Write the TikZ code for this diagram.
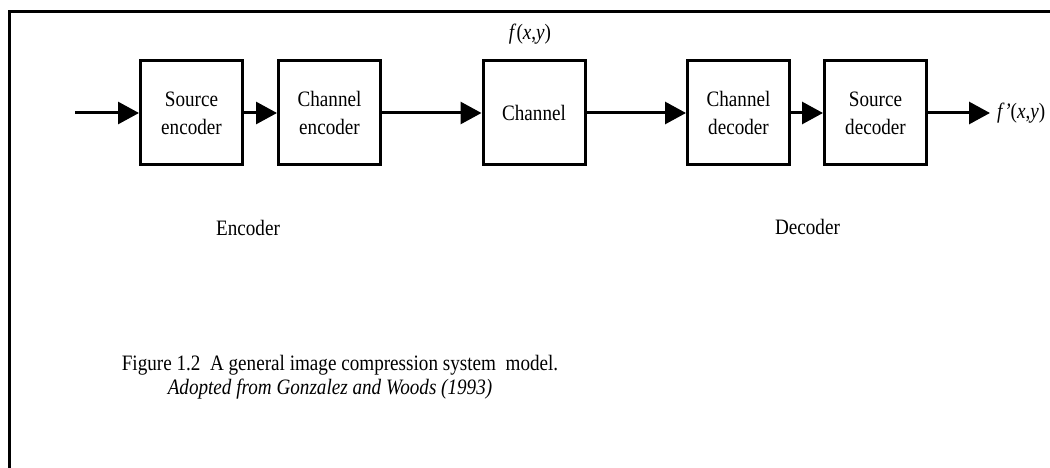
\documentclass[tikz,border=0pt]{standalone}
\usepackage{fontspec}
\setmainfont{Liberation Serif}[FakeStretch=0.87]
\usetikzlibrary{arrows.meta,positioning}

\begin{document}
\begin{tikzpicture}[x=1pt, y=-1pt,
    blockbox/.style={draw, line width=3pt, minimum width=102pt, minimum height=104pt, align=center, font=\fontsize{22}{28}\selectfont},
    flow/.style={line width=3pt, -{Triangle[length=21pt,width=22pt]}},
    plain/.style={font=\fontsize{22}{24}\selectfont}]

        \useasboundingbox (0,0) rectangle (1050,468);

        %Frame
        \draw [line width=3pt] (9,468) -- (9,12) -- (1050,12);

        %Boxes
        \coordinate (in) at (75,113);
        \node [blockbox] (srcenc) at (191.5,113) {Source\\encoder};
        \node [blockbox] (chenc) at (329.5,113) {Channel\\encoder};
        \node [blockbox] (chan) at (534,113) {Channel};
        \node [blockbox] (chdec) at (738.5,113) {Channel\\decoder};
        \node [blockbox] (srcdec) at (875.5,113) {Source\\decoder};
        \node [plain, anchor=west, inner xsep=7pt] (fout) at (990,113) {\textit{f'}(\textit{x},\textit{y})};
        \node [plain, anchor=base] (fin) at (530,40) {\textit{f}(\textit{x},\textit{y})};

        %Arrows
        \draw [flow] (in) -- (srcenc);
        \draw [flow] (srcenc) -- (chenc);
        \draw [flow] (chenc) -- (chan);
        \draw [flow] (chan) -- (chdec);
        \draw [flow] (chdec) -- (srcdec);
        \draw [flow] (srcdec) -- (fout);

        %Labels
        \node [plain, anchor=base] (enc) at (248,235) {Encoder};
        \node [plain, anchor=base] (dec) at (807.5,234) {Decoder};

        %Caption
        \node [plain, anchor=base] (cap) at (340,370) {Figure 1.2\ \ A general image compression system\ \ model.};
        \node [plain, anchor=base] (src) at (330,394) {\textit{Adopted from Gonzalez and Woods (1993)}};

\end{tikzpicture}
\end{document}
